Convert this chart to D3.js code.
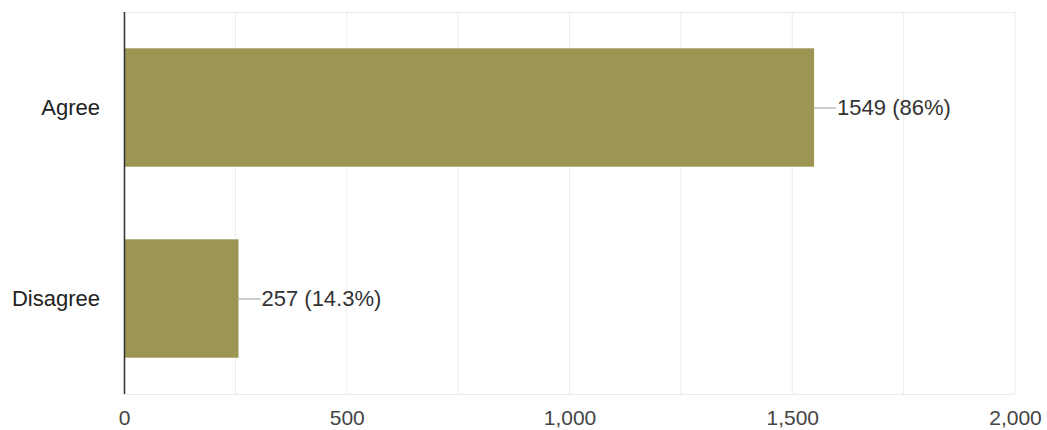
<!DOCTYPE html>
<html><head><meta charset="utf-8">
<script src="https://cdn.jsdelivr.net/npm/d3@7"></script>
<style>body{margin:0;background:#fff;} svg{display:block;} text{font-family:"Liberation Sans",Arial,sans-serif;}</style>
</head><body><svg id="c" width="1047" height="430"></svg>
<script>
const categories = ["Agree", "Disagree"];
const counts = [1549, 257];
const valueLabels = ["1549 (86%)", "257 (14.3%)"];
const xTicks = [0, 500, 1000, 1500, 2000];
const gridTicks = [0, 250, 500, 750, 1000, 1250, 1500, 1750, 2000];

const svg = d3.select("#c");
const m = {l:124, r:32, t:12, b:36};
const W = 1047, H = 430;
const x = d3.scaleLinear().domain([0, 2000]).range([m.l, W - m.r]);
const y = d3.scaleBand().domain(categories).range([m.t, H - m.b]).paddingInner(0.38).paddingOuter(0.19);

// gridlines
svg.append("g").selectAll("line").data(gridTicks).join("line")
  .attr("x1", d => x(d)).attr("x2", d => x(d))
  .attr("y1", m.t).attr("y2", H - m.b)
  .attr("stroke", "#ebebeb").attr("stroke-width", 1);
svg.append("line").attr("x1", m.l).attr("x2", W - m.r).attr("y1", m.t + 0.5).attr("y2", m.t + 0.5).attr("stroke", "#ebebeb");
svg.append("line").attr("x1", m.l).attr("x2", W - m.r).attr("y1", H - m.b + 0.5).attr("y2", H - m.b + 0.5).attr("stroke", "#ebebeb");

// bars
const data = categories.map((c, i) => ({c, v: counts[i], lab: valueLabels[i]}));
svg.append("g").selectAll("rect").data(data).join("rect")
  .attr("x", x(0)).attr("y", d => y(d.c))
  .attr("width", d => x(d.v) - x(0)).attr("height", y.bandwidth())
  .attr("fill", "#9c9553");

// leader lines + labels
const lg = svg.append("g");
lg.selectAll("line").data(data).join("line")
  .attr("x1", d => x(d.v)).attr("x2", d => x(d.v) + 22)
  .attr("y1", d => y(d.c) + y.bandwidth()/2 + 0.5).attr("y2", d => y(d.c) + y.bandwidth()/2 + 0.5)
  .attr("stroke", "#999").attr("stroke-width", 1);
lg.selectAll("text").data(data).join("text")
  .attr("x", d => x(d.v) + 23).attr("y", d => y(d.c) + y.bandwidth()/2)
  .attr("dy", "0.35em").attr("font-size", 22).attr("fill", "#333")
  .text(d => d.lab);

// y axis
const yAxis = d3.axisLeft(y).tickSize(0).tickPadding(24);
const yg = svg.append("g").attr("transform", `translate(${m.l},0)`).call(yAxis);
yg.select(".domain").remove();
yg.selectAll("text").attr("font-size", 22).attr("fill", "#222").attr("font-family", '"Liberation Sans",Arial,sans-serif');
svg.append("line").attr("x1", m.l + 0.5).attr("x2", m.l + 0.5).attr("y1", m.t).attr("y2", H - m.b)
  .attr("stroke", "#333").attr("stroke-width", 1.5);

// x axis
const xAxis = d3.axisBottom(x).tickValues(xTicks).tickSize(0).tickPadding(16).tickFormat(d3.format(","));
const xg = svg.append("g").attr("transform", `translate(0,${H - m.b})`).call(xAxis);
xg.select(".domain").remove();
xg.selectAll("text").attr("font-size", 21).attr("fill", "#444").attr("font-family", '"Liberation Sans",Arial,sans-serif');
</script></body></html>
